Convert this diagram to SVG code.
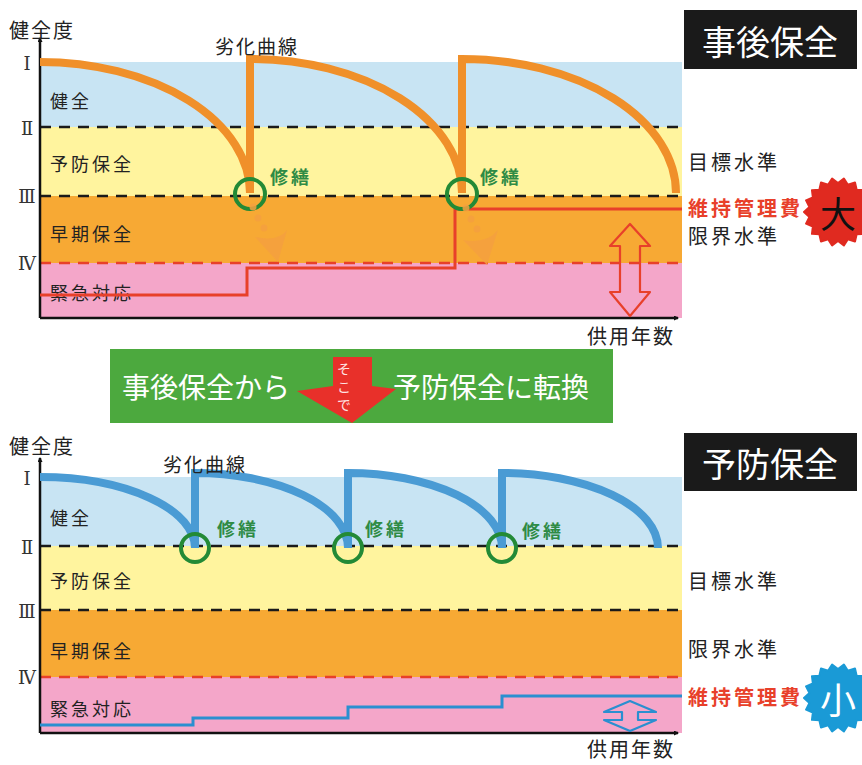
<svg xmlns="http://www.w3.org/2000/svg" width="862" height="765" viewBox="0 0 862 765">
<style>
.t{font-family:"Noto Sans CJK JP","Noto Sans",sans-serif;dominant-baseline:central;fill:#222}
.lbl{font-size:18px;letter-spacing:3px}
.ax{font-size:20px;letter-spacing:2px}
.rt{font-size:20px;letter-spacing:3px}
.cost{font-size:20px;letter-spacing:3px;font-weight:bold;fill:#E8402A}
.rep{font-size:18px;letter-spacing:3px;font-weight:bold;fill:#2E8B45}
.rom{font-family:"DejaVu Serif","Liberation Serif",serif;font-size:18px;text-anchor:middle;dominant-baseline:central;fill:#333}
.box{font-size:34px;fill:#fff;text-anchor:middle}
.ban{font-size:28px;fill:#fff}
.dk{stroke:#1a1a1a;stroke-width:2.5;stroke-dasharray:11 8;fill:none}
.dr{stroke:#E8402A;stroke-width:2.5;stroke-dasharray:11 8;fill:none}
.ring{fill:none;stroke:#238A36;stroke-width:4}
.axis{stroke:#111;stroke-width:2.5;fill:none}
.oc{fill:none;stroke:#F0902A;stroke-width:8}
.bc{fill:none;stroke:#4A9BD4;stroke-width:8}
.dot{fill:#F5A040;opacity:.85}
</style>
<defs>
<marker id="ah" viewBox="0 0 10 10" refX="8" refY="5" markerWidth="5" markerHeight="5" orient="auto" markerUnits="userSpaceOnUse">
<path d="M0,0 L10,5 L0,10 Z" fill="#111"/>
</marker>
<polygon id="burst" points="34,0 28.56,5.04 31.95,11.63 25.11,14.5 26.05,21.85 18.64,22.21 17,29.44 9.92,27.25 5.9,33.48 0,29 -5.9,33.48 -9.92,27.25 -17,29.44 -18.64,22.21 -26.05,21.85 -25.11,14.5 -31.95,11.63 -28.56,5.04 -34,0 -28.56,-5.04 -31.95,-11.63 -25.11,-14.5 -26.05,-21.85 -18.64,-22.21 -17,-29.44 -9.92,-27.25 -5.9,-33.48 0,-29 5.9,-33.48 9.92,-27.25 17,-29.44 18.64,-22.21 26.05,-21.85 25.11,-14.5 31.95,-11.63 28.56,-5.04"/>
</defs>
<rect width="862" height="765" fill="#fff"/>

<!-- TOP CHART -->
<g id="top-bands">
<rect x="40" y="62" width="642" height="65" fill="#C8E4F3"/>
<rect x="40" y="127" width="642" height="69" fill="#FFF49E"/>
<rect x="40" y="196" width="642" height="67" fill="#F7A934"/>
<rect x="40" y="263" width="642" height="55" fill="#F4A6C9"/>
<line class="dk" x1="40" y1="127" x2="682" y2="127"/>
<line class="dk" x1="40" y1="196" x2="682" y2="196"/>
<line class="dr" x1="40" y1="263" x2="682" y2="263"/>
</g>
<g id="top-axes">
<line class="axis" x1="40" y1="318" x2="40" y2="38" marker-end="url(#ah)"/>
<line class="axis" x1="40" y1="318" x2="678" y2="318" marker-end="url(#ah)"/>
<text class="t ax" x="9" y="29">健全度</text>
<text class="t ax" x="587" y="335">供用年数</text>
<text class="rom" x="27" y="63">Ⅰ</text>
<text class="rom" x="27" y="128">Ⅱ</text>
<text class="rom" x="27" y="196">Ⅲ</text>
<text class="rom" x="27" y="263">Ⅳ</text>
</g>
<g id="top-band-labels">
<text class="t lbl" x="50" y="100">健全</text>
<text class="t lbl" x="50" y="163">予防保全</text>
<text class="t lbl" x="50" y="233">早期保全</text>
<text class="t lbl" x="50" y="292">緊急対応</text>
</g>
<g id="top-cost">
<path d="M40,295 H247 V268 H455 V209 H682" fill="none" stroke="#E8402A" stroke-width="3"/>
<polygon points="630,224 650,246 640,246 640,292 650,292 630,316 610,292 620,292 620,246 610,246" fill="none" stroke="#E8402A" stroke-width="2.2" stroke-linejoin="round"/>
</g>
<g id="top-curve">
<path class="oc" d="M40,62 A210,131 0 0 1 250,193 M250,193 V59 A212,134 0 0 1 462,193 M462,193 V59 A214,134 0 0 1 676,193"/>
<text class="t" x="215" y="45" style="font-size:19px;letter-spacing:2px">劣化曲線</text>
</g>
<g id="top-repairs">
<circle class="ring" cx="250" cy="194" r="15"/>
<circle class="ring" cx="462" cy="194" r="15"/>
<text class="t rep" x="270" y="176">修繕</text>
<text class="t rep" x="480" y="176">修繕</text>
<circle class="dot" cx="253" cy="207" r="3.5"/>
<circle class="dot" cx="258" cy="218" r="3.5"/>
<circle class="dot" cx="264" cy="228" r="3.5"/>
<path class="dot" d="M255,237 L278,262 L287,230 Q278,242 255,237 Z"/>
<circle class="dot" cx="466" cy="208" r="3.5"/>
<circle class="dot" cx="471" cy="219" r="3.5"/>
<circle class="dot" cx="477" cy="229" r="3.5"/>
<path class="dot" d="M463,240 L487,265 L498,230 Q487,244 463,240 Z"/>
</g>
<g id="top-side">
<rect x="684" y="10" width="173" height="59" fill="#1a1a1a"/>
<text class="t box" x="770" y="40">事後保全</text>
<text class="t rt" x="688" y="161">目標水準</text>
<text class="t cost" x="688" y="207">維持管理費</text>
<text class="t rt" x="688" y="235">限界水準</text>
<use href="#burst" x="838" y="212" fill="#E02A20" stroke="#E02A20" stroke-width="2" stroke-linejoin="round"/>
<text class="t" x="838" y="212" style="font-size:36px;text-anchor:middle;fill:#111">大</text>
</g>

<!-- BANNER -->
<g id="banner">
<rect x="110" y="349" width="503" height="74" fill="#4CA93E"/>
<text class="t ban" x="122" y="386">事後保全から</text>
<text class="t ban" x="393" y="386">予防保全に転換</text>
<path d="M333,357 H372 V386 L396,389 L352,423 L297,391 L333,386 Z" fill="#E8302A"/>
<text x="344" y="362" writing-mode="vertical-rl" style="font-family:'Noto Sans CJK JP',sans-serif;font-size:14px;letter-spacing:4px;fill:#FFE4E4">そこで</text>
</g>

<!-- BOTTOM CHART -->
<g id="bottom-bands">
<rect x="40" y="477" width="642" height="69" fill="#C8E4F3"/>
<rect x="40" y="546" width="642" height="64" fill="#FFF49E"/>
<rect x="40" y="610" width="642" height="67" fill="#F7A934"/>
<rect x="40" y="677" width="642" height="56" fill="#F4A6C9"/>
<line class="dk" x1="40" y1="546" x2="682" y2="546"/>
<line class="dk" x1="40" y1="610" x2="682" y2="610"/>
<line class="dr" x1="40" y1="677" x2="682" y2="677"/>
</g>
<g id="bottom-axes">
<line class="axis" x1="40" y1="733" x2="40" y2="458" marker-end="url(#ah)"/>
<line class="axis" x1="40" y1="733" x2="678" y2="733" marker-end="url(#ah)"/>
<text class="t ax" x="9" y="445">健全度</text>
<text class="t ax" x="587" y="748">供用年数</text>
<text class="rom" x="27" y="478">Ⅰ</text>
<text class="rom" x="27" y="547">Ⅱ</text>
<text class="rom" x="27" y="611">Ⅲ</text>
<text class="rom" x="27" y="677">Ⅳ</text>
</g>
<g id="bottom-band-labels">
<text class="t lbl" x="50" y="517">健全</text>
<text class="t lbl" x="50" y="580">予防保全</text>
<text class="t lbl" x="50" y="650">早期保全</text>
<text class="t lbl" x="50" y="708">緊急対応</text>
</g>
<g id="bottom-cost">
<path d="M40,725 H193 V718 H348 V707 H502 V696 H682" fill="none" stroke="#2A8FD0" stroke-width="3"/>
<polygon points="630,701 656,712 638,712 638,720 656,720 630,731 604,720 622,720 622,712 604,712" fill="none" stroke="#2A8FD0" stroke-width="2.2" stroke-linejoin="round"/>
</g>
<g id="bottom-curve">
<path class="bc" d="M40,477 A155,71 0 0 1 195,548 M195,548 V473 A153,75 0 0 1 348,548 M348,548 V473 A154,75 0 0 1 502,548 M502,548 V473 A156,75 0 0 1 658,548"/>
<text class="t" x="163" y="463" style="font-size:19px;letter-spacing:2px">劣化曲線</text>
</g>
<g id="bottom-repairs">
<circle class="ring" cx="195" cy="548" r="14"/>
<circle class="ring" cx="348" cy="548" r="14"/>
<circle class="ring" cx="502" cy="548" r="14"/>
<text class="t rep" x="217" y="528">修繕</text>
<text class="t rep" x="365" y="528">修繕</text>
<text class="t rep" x="522" y="530">修繕</text>
</g>
<g id="bottom-side">
<rect x="684" y="433" width="173" height="58" fill="#1a1a1a"/>
<text class="t box" x="770" y="462">予防保全</text>
<text class="t rt" x="688" y="580">目標水準</text>
<text class="t rt" x="688" y="648">限界水準</text>
<text class="t cost" x="688" y="696">維持管理費</text>
<use href="#burst" x="838" y="698" fill="#1A9AD6" stroke="#1A9AD6" stroke-width="2" stroke-linejoin="round"/>
<text class="t" x="838" y="698" style="font-size:36px;text-anchor:middle;fill:#fff">小</text>
</g>
</svg>
